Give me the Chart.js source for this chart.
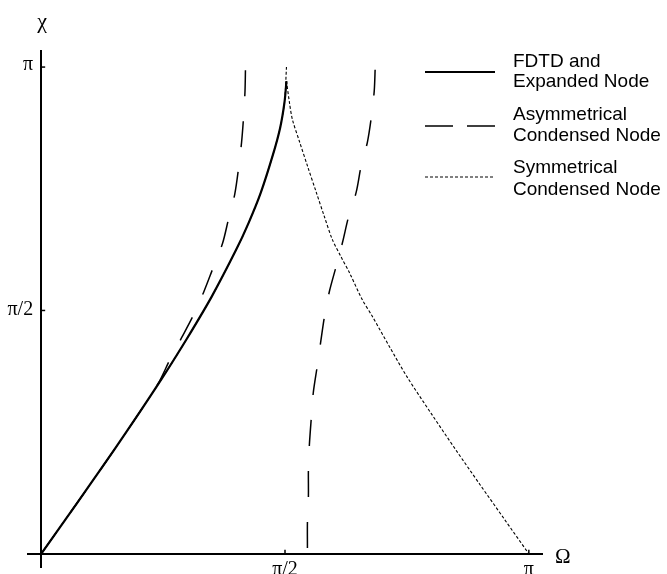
<!DOCTYPE html>
<html>
<head>
<meta charset="utf-8">
<script src="https://cdn.jsdelivr.net/npm/chart.js@4.4.0/dist/chart.umd.min.js"></script>
<style>
  html, body { margin: 0; padding: 0; background: #fff; }
</style>
</head>
<body>
<canvas id="dispersionGraph" width="667" height="574"></canvas>
<script>
// all values in units of pi (Omega along x, chi along y)
const fdtdOmega = [0, 0.05, 0.10, 0.15, 0.20, 0.25, 0.30, 0.35, 0.40, 0.425, 0.45, 0.475, 0.49, 0.499, 0.503];
const fdtdChi = [0, 0.071, 0.142, 0.214, 0.288, 0.364, 0.444, 0.529, 0.625, 0.679, 0.741, 0.819, 0.875, 0.928, 0.971];

const acnLeftOmega = [0, 0.05, 0.10, 0.15, 0.20, 0.24, 0.264, 0.288, 0.311, 0.333, 0.352, 0.372, 0.384, 0.397, 0.405, 0.411, 0.415, 0.418, 0.419];
const acnLeftChi = [0, 0.071, 0.142, 0.214, 0.288, 0.350, 0.399, 0.444, 0.488, 0.537, 0.586, 0.638, 0.687, 0.739, 0.794, 0.846, 0.897, 0.951, 1.0];

const acnRightOmega = [0.546, 0.546, 0.548, 0.548, 0.550, 0.554, 0.558, 0.566, 0.573, 0.581, 0.591, 0.605, 0.618, 0.630, 0.646, 0.656, 0.669, 0.677, 0.683, 0.685];
const acnRightChi = [0.012, 0.066, 0.117, 0.173, 0.224, 0.280, 0.331, 0.385, 0.434, 0.488, 0.539, 0.591, 0.640, 0.691, 0.743, 0.796, 0.846, 0.897, 0.951, 1.0];

// symmetrical node: lower-left part lies under the FDTD curve, short tip at the top, then the falling branch
const scnOmega = [0, 0.05, 0.10, 0.15, 0.20, 0.25, 0.30, 0.35, 0.40, 0.425, 0.45, 0.475, 0.49, 0.499, 0.503];
const scnChi = [0, 0.071, 0.142, 0.214, 0.288, 0.364, 0.444, 0.529, 0.625, 0.679, 0.741, 0.819, 0.875, 0.928, 1.0];
const scnFallOmega = [0.503, 0.509, 0.515, 0.530, 0.547, 0.564, 0.580, 0.597, 0.615, 0.632, 0.658, 0.679, 0.714, 0.75, 0.80, 0.85, 0.90, 0.95, 1.0];
const scnFallChi = [0.971, 0.928, 0.893, 0.846, 0.794, 0.743, 0.695, 0.646, 0.610, 0.578, 0.523, 0.488, 0.426, 0.364, 0.288, 0.214, 0.142, 0.071, 0];

const xTickValues = [0.5, 1];
const xTickLabels = ['π/2', 'π'];
const yTickValues = [0.5, 1];
const yTickLabels = ['π/2', 'π'];
const xTitle = 'Ω';
const yTitle = 'χ';

const legendTexts = [
  ['FDTD and', 'Expanded Node'],
  ['Asymmetrical', 'Condensed Node'],
  ['Symmetrical', 'Condensed Node']
];

function toPoints(xs, ys) {
  return xs.map((v, i) => ({ x: v, y: ys[i] }));
}

const serif = '"Liberation Serif", "DejaVu Serif", serif';
const sans = '"Liberation Sans", Arial, sans-serif';

// axis tick marks, tick labels, axis titles and the legend on the right
const axisDecor = {
  id: 'axisDecor',
  afterDraw(chart) {
    const { ctx, scales: { x, y } } = chart;
    const x0 = x.getPixelForValue(0);
    const y0 = y.getPixelForValue(0);
    ctx.save();
    ctx.fillStyle = '#000';
    ctx.strokeStyle = '#000';
    ctx.lineWidth = 1.5;
    ctx.font = '20px ' + serif;

    ctx.textAlign = 'center';
    ctx.textBaseline = 'alphabetic';
    xTickValues.forEach((v, i) => {
      const px = x.getPixelForValue(v);
      ctx.beginPath();
      ctx.moveTo(px, y0);
      ctx.lineTo(px, y0 - 4);
      ctx.stroke();
      ctx.fillText(xTickLabels[i], px, y0 + 21);
    });

    ctx.textAlign = 'right';
    yTickValues.forEach((v, i) => {
      const py = y.getPixelForValue(v);
      ctx.beginPath();
      ctx.moveTo(x0, py);
      ctx.lineTo(x0 + 4, py);
      ctx.stroke();
      const m = ctx.measureText(yTickLabels[i]);
      const shift = (m.actualBoundingBoxAscent - m.actualBoundingBoxDescent) / 2;
      ctx.fillText(yTickLabels[i], x0 - 8, py + shift - 2);
    });

    ctx.font = '21px ' + serif;
    ctx.textAlign = 'left';
    ctx.fillText(xTitle, 555, y0 + 9);
    ctx.textAlign = 'center';
    ctx.font = '22px ' + serif;
    ctx.fillText(yTitle, x0 + 1, 28);

    // legend
    const sampleY = [72, 126, 177];
    const textY = [[67, 87], [120, 141], [173, 195]];
    const dashes = [[], [28, 14], [3, 2]];
    const widths = [2.2, 1.5, 1];
    ctx.font = '19px ' + sans;
    ctx.textAlign = 'left';
    legendTexts.forEach((lines, i) => {
      ctx.lineWidth = widths[i];
      ctx.setLineDash(dashes[i]);
      ctx.beginPath();
      ctx.moveTo(425, sampleY[i]);
      ctx.lineTo(495, sampleY[i]);
      ctx.stroke();
      ctx.setLineDash([]);
      lines.forEach((t, j) => ctx.fillText(t, 513, textY[i][j]));
    });
    ctx.restore();
  }
};

const ctx = document.getElementById('dispersionGraph').getContext('2d');
const myChart = new Chart(ctx, {
  type: 'scatter',
  data: {
    datasets: [{
      label: 'FDTD and Expanded Node',
      data: toPoints(fdtdOmega, fdtdChi),
      borderColor: '#000',
      borderWidth: 2.2,
    }, {
      label: 'Asymmetrical Condensed Node',
      data: toPoints(acnLeftOmega, acnLeftChi),
      borderColor: '#000',
      borderWidth: 1.5,
      borderDash: [26, 25],
    }, {
      label: 'Asymmetrical Condensed Node (upper branch)',
      data: toPoints(acnRightOmega, acnRightChi),
      borderColor: '#000',
      borderWidth: 1.5,
      borderDash: [26, 25],
    }, {
      label: 'Symmetrical Condensed Node',
      data: toPoints(scnOmega, scnChi),
      borderColor: '#000',
      borderWidth: 1.1,
      borderDash: [3, 2],
    }, {
      label: 'Symmetrical Condensed Node (falling part)',
      data: toPoints(scnFallOmega, scnFallChi),
      borderColor: '#000',
      borderWidth: 1.1,
      borderDash: [3, 2],
    }]
  },
  options: {
    responsive: false,
    animation: false,
    devicePixelRatio: 1,
    layout: { padding: { left: 28, right: 125, top: 51, bottom: 7 } },
    datasets: { scatter: { showLine: true, pointRadius: 0, tension: 0.3, fill: false } },
    plugins: {
      legend: { display: false },
      tooltip: { enabled: false }
    },
    scales: {
      x: {
        type: 'linear',
        min: -0.027,
        max: 1.027,
        position: { y: 0 },
        grid: { drawOnChartArea: false, drawTicks: false },
        border: { color: '#000', width: 2 },
        ticks: { display: false }
      },
      y: {
        type: 'linear',
        min: -0.027,
        max: 1.033,
        position: { x: 0 },
        grid: { drawOnChartArea: false, drawTicks: false },
        border: { color: '#000', width: 2 },
        ticks: { display: false }
      }
    }
  },
  plugins: [axisDecor]
});
</script>
</body>
</html>
